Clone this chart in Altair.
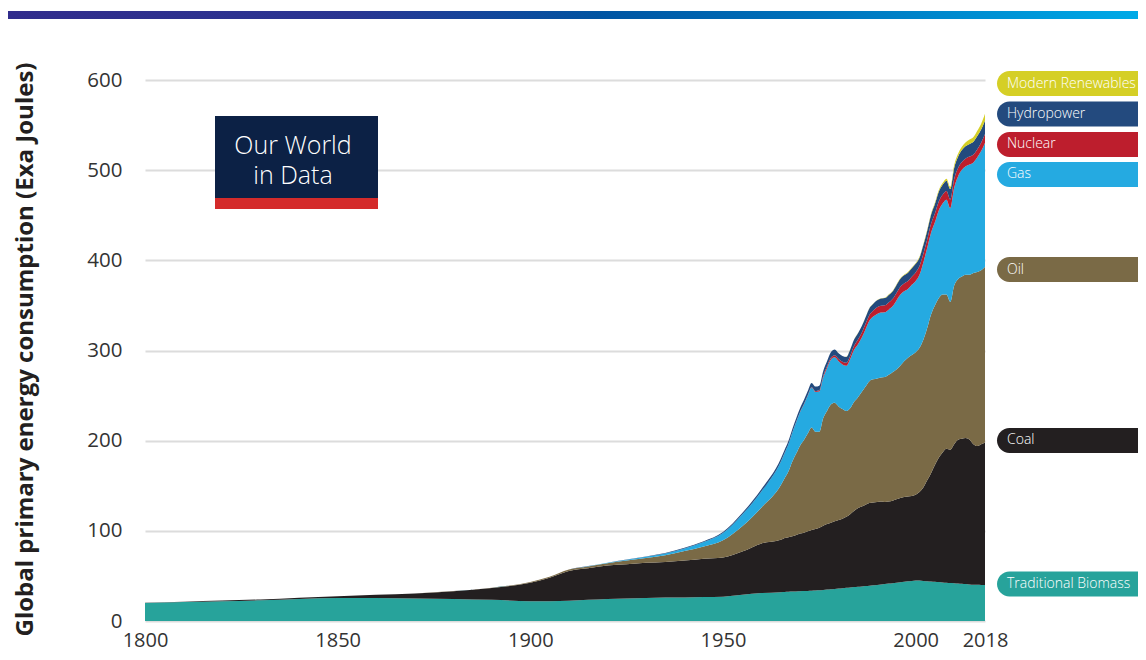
import altair as alt
import pandas as pd

# ---------------- data (Exa Joules) ----------------
YEARS = [1800, 1810, 1820, 1830, 1840, 1850, 1860, 1870, 1880, 1890,
         1900, 1905, 1910, 1915, 1920, 1925, 1930, 1935, 1940, 1945, 1950, 1955, 1960,
         1965, 1966, 1967, 1968, 1969, 1970, 1971, 1972, 1973, 1974, 1975,
         1976, 1977, 1978, 1979, 1980, 1981, 1982, 1983, 1984, 1985, 1986, 1987, 1988, 1989,
         1990, 1991, 1992, 1993, 1994, 1995, 1996, 1997, 1998, 1999,
         2000, 2001, 2002, 2003, 2004, 2005, 2006, 2007, 2008, 2009,
         2010, 2011, 2012, 2013, 2014, 2015, 2016, 2017, 2018]

TRADITIONAL_BIOMASS = [20, 21, 22, 23, 24.5, 25.5, 25.5, 25, 24.5, 23.5,
                       22, 22, 22.5, 23.5, 24.5, 25, 25.5, 26, 26, 26.5, 27, 29, 31,
                       32, 32.2, 32.4, 32.6, 32.8, 33, 33.2, 33.4, 33.6, 33.8, 34,
                       34.4, 34.8, 35.2, 35.6, 36, 36.4, 36.8, 37.2, 37.6, 38, 38.4, 38.8, 39.2, 39.6,
                       40, 40.5, 41, 41.5, 42, 42.5, 43, 43.5, 44, 44.5,
                       45, 44.8, 44.5, 44.2, 43.8, 43.5, 43.2, 42.8, 42.5, 42.2,
                       42, 41.6, 41.2, 40.9, 40.6, 40.3, 40.1, 40, 40]

COAL = [0.3, 0.4, 0.6, 0.9, 1.3, 2, 3.5, 5.5, 8.5, 13,
        20.5, 26, 33, 35, 37, 38, 39, 39.5, 41, 42.5, 43.5, 48, 55,
        58, 59.8, 60.6, 61.4, 62.7, 64, 64.8, 66.1, 67.4, 68.2, 69.5,
        71.1, 72.7, 73.8, 74.9, 76, 77.1, 78.7, 81.3, 84.4, 87, 88.6, 90.2, 91.8, 91.9,
        92, 92, 91, 91, 91.5, 92.5, 93.5, 94, 94, 94,
        95, 98.2, 103.5, 111.8, 120.2, 129.5, 137.8, 144.2, 148.5, 147.8,
        154, 159.4, 160.8, 162.1, 160.4, 155.7, 153.9, 156, 158]

OIL = [0, 0, 0, 0, 0, 0, 0, 0.1, 0.2, 0.4,
       0.7, 1, 1.5, 2, 2.5, 4, 5.5, 7.5, 10.5, 13.5, 19, 28, 40,
       60.6, 66.4, 73.2, 83, 90.2, 97.5, 102.7, 108.4, 113.6, 108, 106.5,
       119.5, 125.5, 131, 131.5, 126, 121.5, 117.5, 117.5, 121, 123, 127, 131, 135, 136.5,
       137, 137.5, 138.5, 140.5, 142.5, 144, 146.5, 150.5, 154, 156.5,
       158, 160, 164, 169, 176, 177, 177, 175, 171, 164,
       176, 178, 180, 181, 183, 190, 193, 193, 195]

GAS = [0, 0, 0, 0, 0, 0, 0, 0, 0, 0,
       0.1, 0.1, 0.2, 0.3, 0.5, 0.8, 1.2, 1.8, 3, 5, 8, 13, 18,
       26, 28, 30, 32, 35, 37, 39.5, 42, 44, 44, 44.5,
       44.8, 47.4, 49.7, 50.4, 50, 49.5, 50, 54.3, 57.5, 58.6, 60.1, 63.6, 66.9, 69.6,
       71.6, 72.1, 71.9, 72.3, 73, 76.3, 78.8, 77.7, 76.3, 77.8,
       79.2, 81.1, 85.7, 88.8, 90.7, 92.1, 97.4, 101.1, 105.3, 103.9,
       108.4, 114, 118.4, 120.3, 122.2, 122.5, 127.2, 132.2, 137.5]

NUCLEAR = [0, 0, 0, 0, 0, 0, 0, 0, 0, 0,
           0, 0, 0, 0, 0, 0, 0, 0, 0, 0, 0, 0, 0,
           0.1, 0.15, 0.2, 0.25, 0.3, 0.3, 0.4, 0.55, 0.7, 0.9, 1.3,
           1.7, 2.0, 2.3, 2.4, 2.6, 3.0, 3.3, 3.7, 4.4, 5.2, 5.5, 6.0, 6.5, 6.8,
           7.3, 7.6, 7.7, 7.9, 8.0, 8.3, 8.6, 8.5, 8.7, 9.0,
           9.3, 9.5, 9.6, 9.4, 9.8, 9.8, 9.9, 9.7, 9.6, 9.5,
           9.7, 9.3, 8.7, 8.7, 8.9, 9.0, 9.1, 9.2, 9.6]

HYDROPOWER = [0, 0, 0, 0, 0, 0, 0, 0, 0, 0,
              0.02, 0.03, 0.05, 0.08, 0.2, 0.3, 0.4, 0.5, 0.7, 1.0, 1.2, 1.8, 2.4,
              3.3, 3.5, 3.6, 3.8, 4.0, 4.2, 4.4, 4.6, 4.7, 5.1, 5.2,
              5.5, 5.6, 6.0, 6.2, 6.3, 6.4, 6.6, 6.9, 7.0, 7.1, 7.2, 7.2, 7.4, 7.4,
              7.8, 8.0, 8.0, 8.4, 8.5, 8.9, 9.0, 9.2, 9.3, 9.4,
              9.6, 9.4, 9.6, 9.6, 10.1, 10.5, 10.8, 11.0, 11.5, 11.6,
              12.4, 12.6, 13.2, 13.7, 14.0, 14.0, 14.5, 14.6, 15.0]

MODERN_RENEWABLES = [0, 0, 0, 0, 0, 0, 0, 0, 0, 0,
                     0, 0, 0, 0, 0, 0, 0, 0, 0, 0, 0, 0, 0,
                     0, 0, 0, 0, 0, 0, 0, 0, 0, 0, 0,
                     0, 0, 0, 0, 0.1, 0.1, 0.1, 0.1, 0.1, 0.1, 0.2, 0.2, 0.2, 0.2,
                     0.3, 0.35, 0.4, 0.45, 0.5, 0.55, 0.6, 0.65, 0.7, 0.8,
                     0.8, 0.9, 1.0, 1.1, 1.2, 1.4, 1.6, 1.9, 2.2, 2.5,
                     3.0, 3.4, 3.8, 4.3, 4.8, 5.3, 5.9, 6.6, 7.5]

SOURCES = ["Traditional Biomass", "Coal", "Oil", "Gas", "Nuclear", "Hydropower", "Modern Renewables"]
SERIES = [TRADITIONAL_BIOMASS, COAL, OIL, GAS, NUCLEAR, HYDROPOWER, MODERN_RENEWABLES]
COLORS = ["#27a39b", "#231f20", "#7a6a46", "#25aae1", "#bd1e2d", "#234a7e", "#d5cf26"]

X_TICKS = [1800, 1850, 1900, 1950, 2000, 2018]
Y_TICKS = [0, 100, 200, 300, 400, 500, 600]
Y_TITLE = "Global primary energy consumption (Exa Joules)"
LOGO_LINES = ["Our World", "in Data"]

# label pill centres, in axis units
LABEL_CENTRES = [41.0, 200.2, 389.8, 495.2, 528.5, 562.3, 596.1]

for s in SERIES:
    assert len(s) == len(YEARS)

rows = []
for rank, (name, vals) in enumerate(zip(SOURCES, SERIES)):
    for y, v in zip(YEARS, vals):
        rows.append({"year": y, "source": name, "value": v, "rank": rank})
df = pd.DataFrame(rows)

W, H = 840, 541
YMAX = 600
FONT = "Open Sans"

color_scale = alt.Scale(domain=SOURCES, range=COLORS)

areas = alt.Chart(df).mark_area(interpolate="monotone").encode(
    x=alt.X("year:Q",
            scale=alt.Scale(domain=[1800, 2018], nice=False, zero=False),
            axis=alt.Axis(values=X_TICKS, format="d", grid=False, domain=False, ticks=False,
                          tickSize=0, labelFontSize=20, labelColor="#333333", labelFont=FONT,
                          labelPadding=25, labelBaseline="alphabetic",
                          labelFlush=False, labelOverlap=False, title=None)),
    y=alt.Y("value:Q", stack="zero",
            scale=alt.Scale(domain=[0, YMAX], nice=False),
            axis=alt.Axis(values=Y_TICKS, grid=True, gridColor="#dcdcdc", gridWidth=2,
                          domain=False, ticks=False, tickSize=0, labelPadding=23,
                          labelFontSize=20.5, labelColor="#333333", labelFont=FONT,
                          title=Y_TITLE, titleFont=FONT, titleFontSize=24, titleFontWeight="bold",
                          titleColor="#231f20", titleAngle=-90, titleX=-113, titleY=269,
                          titleAlign="center", titleBaseline="alphabetic")),
    color=alt.Color("source:N", scale=color_scale, legend=None),
    order=alt.Order("rank:Q", sort="ascending"),
)

one = pd.DataFrame({"k": [0]})

# top gradient bar
gradient = alt.Gradient(
    gradient="linear",
    stops=[alt.GradientStop(color="#312c8c", offset=0),
           alt.GradientStop(color="#2a3592", offset=0.3),
           alt.GradientStop(color="#0054a2", offset=0.52),
           alt.GradientStop(color="#0074bd", offset=0.72),
           alt.GradientStop(color="#00abe8", offset=1)],
    x1=0, x2=1, y1=0, y2=0)
top_bar = alt.Chart(one).mark_rect(color=gradient).encode(
    x=alt.value(-137), x2=alt.value(998), y=alt.value(-69), y2=alt.value(-61))

# logo
logo_box = alt.Chart(one).mark_rect(color="#0c2145").encode(
    x=alt.value(70), x2=alt.value(233), y=alt.value(36), y2=alt.value(118))
logo_red = alt.Chart(one).mark_rect(color="#d42b2b").encode(
    x=alt.value(70), x2=alt.value(233), y=alt.value(118), y2=alt.value(129))
logo_text = alt.Chart(one).mark_text(text=LOGO_LINES, lineHeight=30, color="white", font=FONT,
                                     fontSize=25, fontWeight=300, align="center",
                                     baseline="middle").encode(
    x=alt.value(148), y=alt.value(66))

# right-hand labels (pills)
lab = pd.DataFrame({"source": SOURCES, "centre": LABEL_CENTRES})
px_per_unit = H / YMAX
pill_base = alt.Chart(lab).transform_calculate(
    top=f"{H} - (datum.centre + 13.9) * {px_per_unit}",
    bot=f"{H} - (datum.centre - 13.9) * {px_per_unit}",
    mid=f"{H} - datum.centre * {px_per_unit}",
)
pills = pill_base.mark_rect(cornerRadius=12.5).encode(
    x=alt.value(852), x2=alt.value(1012),
    y=alt.Y("top:Q", scale=None), y2=alt.Y2("bot:Q"),
    color=alt.Color("source:N", scale=color_scale, legend=None),
)
pill_text = pill_base.mark_text(align="left", baseline="middle", color="white",
                                font=FONT, fontSize=14, fontWeight=300).encode(
    x=alt.value(862),
    y=alt.Y("mid:Q", scale=None),
    text="source:N",
)

chart = alt.layer(areas, top_bar, logo_box, logo_red, logo_text, pills, pill_text).properties(
    width=W, height=H,
    autosize=alt.AutoSizeParams(type="none"),
    padding={"left": 137, "top": 72, "right": 153, "bottom": 31},
    background="white",
).configure_view(stroke=None)

chart.save("out.html", embed_options={"renderer": "svg", "actions": False})
